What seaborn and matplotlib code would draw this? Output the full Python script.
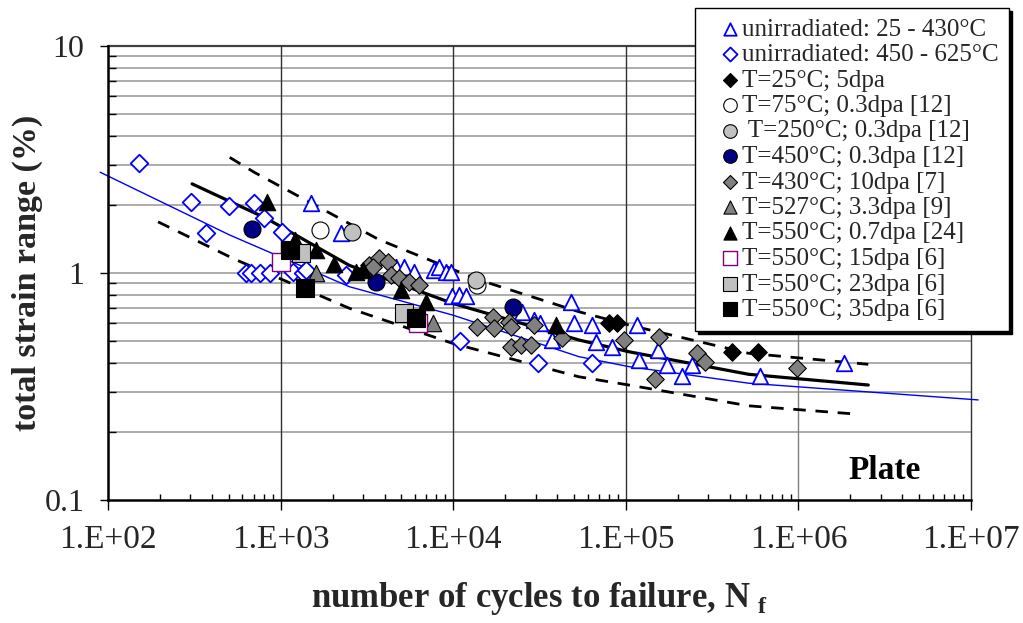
import math
import matplotlib
matplotlib.use("Agg")
import matplotlib.pyplot as plt
import seaborn as sns
from matplotlib.ticker import FixedLocator, FuncFormatter, NullFormatter

sns.set_theme(style="white")
plt.rcParams['font.family'] = ['Liberation Serif', 'DejaVu Serif']
plt.rcParams['mathtext.fontset'] = 'custom'
plt.rcParams['mathtext.rm'] = 'Liberation Serif'
plt.rcParams['mathtext.bf'] = 'Liberation Serif:bold'

# ---------------- data ----------------
unirr_low_N = [1504, 2240, 4665, 5210, 5950, 7770, 8300, 9070, 9700, 9870, 10830, 11890,
               25200, 29400, 32000, 37300, 47900, 50000, 63800, 66800, 83400, 116400,
               119000, 153000, 173300, 211500, 241700, 600000, 1840000]
unirr_low_s = [2.04, 1.50, 1.066, 1.066, 1.013, 1.03, 1.066, 1.013, 1.013, 0.792, 0.80, 0.792,
               0.675, 0.62, 0.60, 0.507, 0.747, 0.60, 0.59, 0.498, 0.474, 0.59,
               0.414, 0.458, 0.393, 0.35, 0.393, 0.35, 0.40]

unirr_high_N = [151, 301, 372, 500, 698, 798, 1023, 634, 676, 756, 863, 1178, 1346, 1408,
                2400, 11000, 31100, 63800]
unirr_high_s = [3.04, 2.06, 1.50, 1.97, 2.04, 1.74, 1.51, 1.0, 1.0, 1.0, 1.0, 1.013, 1.0, 1.03,
                0.98, 0.50, 0.40, 0.40]

t25_N = [79800, 89200, 411000, 587000]
t25_s = [0.60, 0.60, 0.45, 0.45]

t75_N = [1697, 13700]
t75_s = [1.546, 0.885]

t250_N = [2596, 13500]
t250_s = [1.52, 0.93]

t450_N = [686, 3573, 22300]
t450_s = [1.56, 0.916, 0.706]

t430_N = [3270, 3735, 4170, 3420, 4365, 4870, 5570, 6360, 13800, 16900, 17260, 21080,
          21500, 29400, 21500, 24600, 28100, 42900, 97300, 155200, 147200, 258000,
          288600, 977000]
t430_s = [1.08, 1.16, 1.12, 1.066, 0.98, 0.948, 0.916, 0.885, 0.58, 0.638, 0.57, 0.61,
          0.58, 0.59, 0.474, 0.482, 0.48, 0.516, 0.507, 0.524, 0.341, 0.443,
          0.407, 0.38]

t527_N = [1608, 7590]
t527_s = [1.003, 0.60]

t550a_N = [838, 1205, 1607, 2051, 2740, 2990, 4980, 6950, 39200]
t550a_s = [2.06, 1.40, 1.26, 1.10, 1.01, 1.03, 0.84, 0.747, 0.59]

t550b_N = [1000, 6220]
t550b_s = [1.12, 0.60]

t550c_N = [1318, 5210]
t550c_s = [1.22, 0.665]

t550d_N = [1127, 1377, 6080]
t550d_s = [1.26, 0.856, 0.632]

# fit curves
fit_N = [307, 827, 2505, 9910, 53500, 104000, 514000, 2540000]
fit_s = [2.47, 1.74, 1.08, 0.735, 0.507, 0.45, 0.358, 0.321]
upper_N = [507, 708, 3735, 14130, 53500, 104000, 514000, 2540000]
upper_s = [3.23, 2.77, 1.40, 0.932, 0.675, 0.59, 0.443, 0.396]
lower_N = [195, 542, 2505, 9910, 53500, 104000, 514000, 2170000]
lower_s = [1.68, 1.15, 0.699, 0.49, 0.349, 0.321, 0.26, 0.239]
unirr_fit_N = [90, 507, 2505, 9910, 53500, 104000, 514000, 11000000]
unirr_fit_s = [2.78, 1.47, 0.87, 0.653, 0.428, 0.387, 0.327, 0.276]

x_ticks = [1e2, 1e3, 1e4, 1e5, 1e6, 1e7]
y_ticks = [0.1, 1, 10]
y_tick_labels = ["0.1", "1", "10"]

# ---------------- figure ----------------
fig = plt.figure(figsize=(10.23, 6.23), dpi=100)
ax = fig.add_axes([108 / 1023, 1 - 500 / 623, (971 - 108) / 1023, (500 - 46) / 623])
ax.set_xscale('log')
ax.set_yscale('log')
ax.set_xlim(1e2, 1e7)
ax.set_ylim(0.1, 10)

# grid
y_minor = [m * 10.0 ** e for e in (-1, 0) for m in range(2, 10)]
x_minor = [m * 10.0 ** e for e in range(2, 7) for m in range(2, 10)]
ax.yaxis.set_minor_locator(FixedLocator(y_minor))
ax.xaxis.set_minor_locator(FixedLocator(x_minor))
ax.grid(False)
for yv in y_minor + [1]:
    ax.axhline(yv, color='#A6A6A6', lw=1.3, zorder=0.5)
ax.axhline(10, color='#404040', lw=1.6, zorder=0.5, clip_on=False)
for xv in [1e3, 1e4, 1e5, 1e6, 1e7]:
    ax.axvline(xv, color='#303030' if xv != 1e6 else '#808080', lw=1.0, zorder=0.6, clip_on=False)

# curves
line_kw = dict(ax=ax, estimator=None, sort=False, legend=False)
sns.lineplot(x=fit_N, y=fit_s, color='black', linewidth=2.3, zorder=1.5, **line_kw)
sns.lineplot(x=upper_N, y=upper_s, color='black', linewidth=2.0, zorder=1.5, **line_kw)
sns.lineplot(x=lower_N, y=lower_s, color='black', linewidth=2.0, zorder=1.5, **line_kw)
sns.lineplot(x=unirr_fit_N, y=unirr_fit_s, color='blue', linewidth=1.0, zorder=1.5, **line_kw)
ax.lines[-3].set_linestyle((0, (4.5, 3.5)))
ax.lines[-2].set_linestyle((0, (4.5, 3.5)))
ax.lines[-1].set_clip_on(False)

series = [
    (unirr_low_N, unirr_low_s, '^', 125, 'white', 'blue', 1.3, 'unirradiated: 25 - 430°C'),
    (unirr_high_N, unirr_high_s, 'D', 80, 'white', 'blue', 1.3, 'unirradiated: 450 - 625°C'),
    (t25_N, t25_s, 'D', 80, 'black', 'black', 0.8, 'T=25°C; 5dpa'),
    (t75_N, t75_s, 'o', 150, 'white', 'black', 0.8, 'T=75°C; 0.3dpa [12]'),
    (t250_N, t250_s, 'o', 150, '#C0C0C0', 'black', 0.8, ' T=250°C; 0.3dpa [12]'),
    (t450_N, t450_s, 'o', 150, '#000080', 'black', 0.8, 'T=450°C; 0.3dpa [12]'),
    (t430_N, t430_s, 'D', 80, '#808080', 'black', 0.8, 'T=430°C; 10dpa [7]'),
    (t527_N, t527_s, '^', 140, '#808080', 'black', 0.8, 'T=527°C; 3.3dpa [9]'),
    (t550a_N, t550a_s, '^', 140, 'black', 'black', 0.8, 'T=550°C; 0.7dpa [24]'),
    (t550b_N, t550b_s, 's', 150, 'white', '#800080', 1.0, 'T=550°C; 15dpa [6]'),
    (t550c_N, t550c_s, 's', 150, '#C0C0C0', 'black', 0.8, 'T=550°C; 23dpa [6]'),
    (t550d_N, t550d_s, 's', 150, 'black', 'black', 0.8, 'T=550°C; 35dpa [6]'),
]
for i, (xs, ys, mk, sz, fc, ec, lw, lab) in enumerate(series):
    sns.scatterplot(x=xs, y=ys, marker=mk, s=sz, color=fc, edgecolor=ec, linewidth=lw,
                    label=lab, ax=ax, zorder=3 + i * 0.01)

# axes styling
for side in ['top', 'right']:
    ax.spines[side].set_visible(False)
for side in ['left', 'bottom']:
    ax.spines[side].set_color('black')
    ax.spines[side].set_linewidth(1.8)
    ax.spines[side].set_zorder(5)

ax.xaxis.set_major_locator(FixedLocator(x_ticks))
ax.xaxis.set_major_formatter(FuncFormatter(lambda v, p: "1.E+%02d" % round(math.log10(v))))
ax.xaxis.set_minor_formatter(NullFormatter())
ax.yaxis.set_major_locator(FixedLocator(y_ticks))
ax.set_yticklabels(y_tick_labels)
ax.yaxis.set_minor_formatter(NullFormatter())

ax.tick_params(axis='x', which='major', direction='out', length=7.5, width=1.0,
               color='black', labelsize=24, pad=10, bottom=True)
ax.tick_params(axis='x', which='minor', direction='in', length=4.5, width=1.0,
               color='black', bottom=True)
ax.tick_params(axis='y', which='major', direction='out', length=6, width=1.0,
               color='black', labelsize=23, pad=11, left=True)
ax.tick_params(axis='y', which='minor', direction='in', length=6, width=1.0,
               color='black', left=True)

ax.set_xlabel(r"number of cycles to failure, N$_{\ \mathbf{f}}$", fontsize=25,
              fontweight='bold', labelpad=18)
ax.set_ylabel("total strain range (%)", fontsize=24.5, fontweight='bold', labelpad=1)

ax.text(0.90, 0.064, "Plate", transform=ax.transAxes, ha='center', va='center',
        fontsize=24, fontweight='bold', color='black')

leg = ax.legend(loc='upper left', bbox_to_anchor=(695 / 1023, 1 - 8 / 623),
                bbox_transform=fig.transFigure, frameon=True, fancybox=False,
                shadow={'color': 'black', 'alpha': 1.0}, fontsize=18, labelspacing=0.12,
                handlelength=2.0, handletextpad=-0.5, borderpad=0.4, borderaxespad=0,
                markerscale=0.8, framealpha=1)
leg.get_frame().set_edgecolor('black')
leg.get_frame().set_linewidth(1.0)
leg.set_zorder(10)

fig.savefig('out.png', dpi=100)
